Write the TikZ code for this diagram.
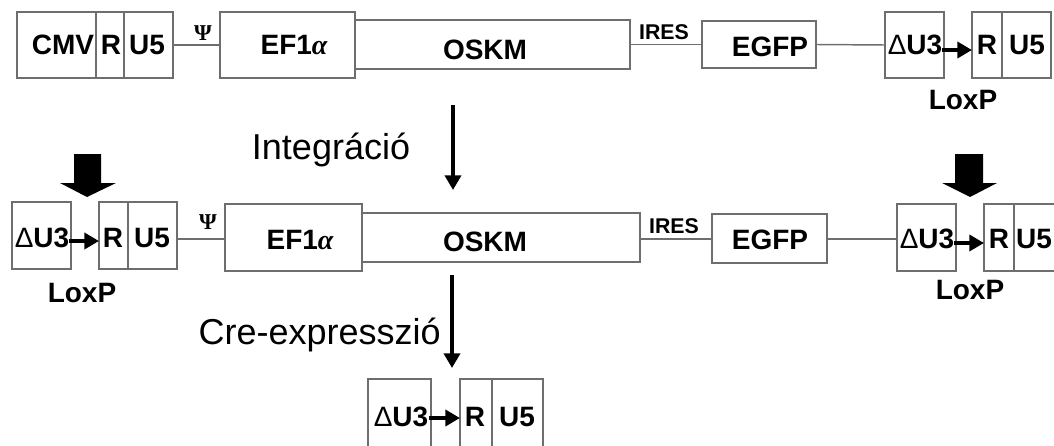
\documentclass[tikz,border=0pt]{standalone}
\usepackage{fontspec}
\setmainfont{Liberation Sans}
\newfontfamily\psifont{Liberation Serif}
\usetikzlibrary{fit,arrows.meta}
\definecolor{boxgray}{HTML}{6E6E6E}
\tikzset{
  seg/.style={draw=boxgray, line width=1.1pt, inner sep=0pt, fill=none},
  lbl/.style={font=\fontsize{21}{21}\selectfont\bfseries, inner sep=0pt, anchor=center},
  small/.style={font=\fontsize{16}{16}\selectfont\bfseries, inner sep=0pt},
  psi/.style={font=\psifont\fontsize{17}{17}\selectfont\bfseries, inner sep=0pt},
  step text/.style={font=\fontsize{27}{27}\selectfont, inner sep=0pt},
  conn/.style={draw=boxgray, line width=1.1pt},
  loxarrow/.style={line width=3.4pt, -{Triangle[length=11pt,width=12pt]}},
  flow/.style={line width=2.8pt, -{Triangle[length=11pt,width=12pt]}},
  bigarrow/.style={fill=black}
}
\newcommand{\alfa}{{\psifont\itshape α}}
\begin{document}
\begin{tikzpicture}[x=0.75pt,y=-0.75pt]
\path[use as bounding box] (0,0) rectangle (1054,446);
\clip (0,0) rectangle (1054,446);
% ---------------- Row 1 ----------------
\node[seg, fit={(17,12) (96,78)}] (cmv) {};
\node[seg, fit={(96,12) (124,78)}] (r0) {};
\node[seg, fit={(124,12) (173,78)}] (u0) {};
\node[lbl] (cmvt) at (63,45) {CMV};
\node[lbl] (r0t) at (111,45) {R};
\node[lbl] (u0t) at (147,45) {U5};
\node[seg, fit={(220,12) (355,78)}] (ef1) {};
\node[lbl] (ef1t) at (294,45) {EF1\alfa};
\node[seg, fit={(355,20) (630,69)}] (oskm1) {};
\node[lbl] (oskm1t) at (485,50) {OSKM};
\node[seg, fit={(702,21) (816,68)}] (egfp1) {};
\node[lbl] (egfp1t) at (770,47) {EGFP};
\node[seg, fit={(885,12) (944,78)}] (d1) {};
\node[lbl] (d1t) at (915,45) {{\mdseries Δ}U3};
\node[seg, fit={(972,12) (1002,78)}] (r1) {};
\node[seg, fit={(1002,12) (1051,78)}] (u1) {};
\node[lbl] (r1t) at (987,45) {R};
\node[lbl] (u1t) at (1027,45) {U5};
\node[lbl] (lox1) at (963,100) {LoxP};
\node[psi] (psi1) at (203,33) {Ψ};
\node[small] (ires1) at (664,32) {IRES};
\draw[conn] (u0.east) -- (ef1.west);
\draw[conn] (oskm1.east) -- (egfp1.west);
\draw[conn] (egfp1.east) -- (d1.west);
\coordinate (a1s) at (942,50);
\coordinate (a1e) at (972,50);
\draw[loxarrow] (a1s) -- (a1e);
% ---------------- step 1 ----------------
\node[step text] (integ) at (331,150) {Integráció};
\coordinate (f1s) at (453,105);
\coordinate (f1e) at (453,190);
\draw[flow] (f1s) -- (f1e);
% ---------------- Row 2 ----------------
\fill[bigarrow] (74,154) -- (101,154) -- (101,183) -- (116,183) -- (87,197) -- (60,183) -- (74,183) -- cycle;
\fill[bigarrow] (955,154) -- (983,154) -- (983,183) -- (997,183) -- (970,197) -- (942,183) -- (955,183) -- cycle;
\node[seg, fit={(12,202) (71,269)}] (d2) {};
\node[lbl] (d2t) at (42,238) {{\mdseries Δ}U3};
\node[seg, fit={(99,202) (128,269)}] (r2) {};
\node[seg, fit={(128,202) (177,269)}] (u2) {};
\node[lbl] (r2t) at (113,238) {R};
\node[lbl] (u2t) at (152,238) {U5};
\node[lbl] (lox2) at (82,293) {LoxP};
\coordinate (a2s) at (69,241);
\coordinate (a2e) at (99,241);
\draw[loxarrow] (a2s) -- (a2e);
\node[psi] (psi2) at (208,222) {Ψ};
\node[seg, fit={(225,204) (362,271)}] (ef2) {};
\node[lbl] (ef2t) at (300,240) {EF1\alfa};
\node[seg, fit={(362,213) (640,262)}] (oskm2) {};
\node[lbl] (oskm2t) at (485,242) {OSKM};
\node[small] (ires2) at (674,226) {IRES};
\node[seg, fit={(712,214) (827,263)}] (egfp2) {};
\node[lbl] (egfp2t) at (770,240) {EGFP};
\node[seg, fit={(897,204) (956,271)}] (d3) {};
\node[lbl] (d3t) at (927,239) {{\mdseries Δ}U3};
\node[seg, fit={(984,204) (1014,271)}] (r3) {};
\node[seg, fit={(1014,204) (1070,271)}] (u3) {};
\node[lbl] (r3t) at (999,239) {R};
\node[lbl] (u3t) at (1034,239) {U5};
\node[lbl] (lox3) at (970,290) {LoxP};
\coordinate (a3s) at (954,243);
\coordinate (a3e) at (984,243);
\draw[loxarrow] (a3s) -- (a3e);
\coordinate (l2a) at (177,239);
\coordinate (l2b) at (225,239);
\draw[conn] (l2a) -- (l2b);
\coordinate (l3a) at (640,239);
\coordinate (l3b) at (712,239);
\draw[conn] (l3a) -- (l3b);
\coordinate (l4a) at (827,239);
\coordinate (l4b) at (897,239);
\draw[conn] (l4a) -- (l4b);
% ---------------- step 2 ----------------
\node[step text, anchor=east] (cre) at (441,335) {Cre-expresszió};
\coordinate (f2s) at (452,275);
\coordinate (f2e) at (452,368);
\draw[flow] (f2s) -- (f2e);
% ---------------- Row 3 ----------------
\node[seg, fit={(368,379) (431,470)}] (d4) {};
\node[lbl] (d4t) at (401,417) {{\mdseries Δ}U3};
\node[seg, fit={(460,379) (492,470)}] (r4) {};
\node[seg, fit={(492,379) (543,470)}] (u4) {};
\node[lbl] (r4t) at (475,417) {R};
\node[lbl] (u4t) at (517,417) {U5};
\coordinate (a4s) at (429,418);
\coordinate (a4e) at (460,418);
\draw[loxarrow] (a4s) -- (a4e);
\end{tikzpicture}
\end{document}
